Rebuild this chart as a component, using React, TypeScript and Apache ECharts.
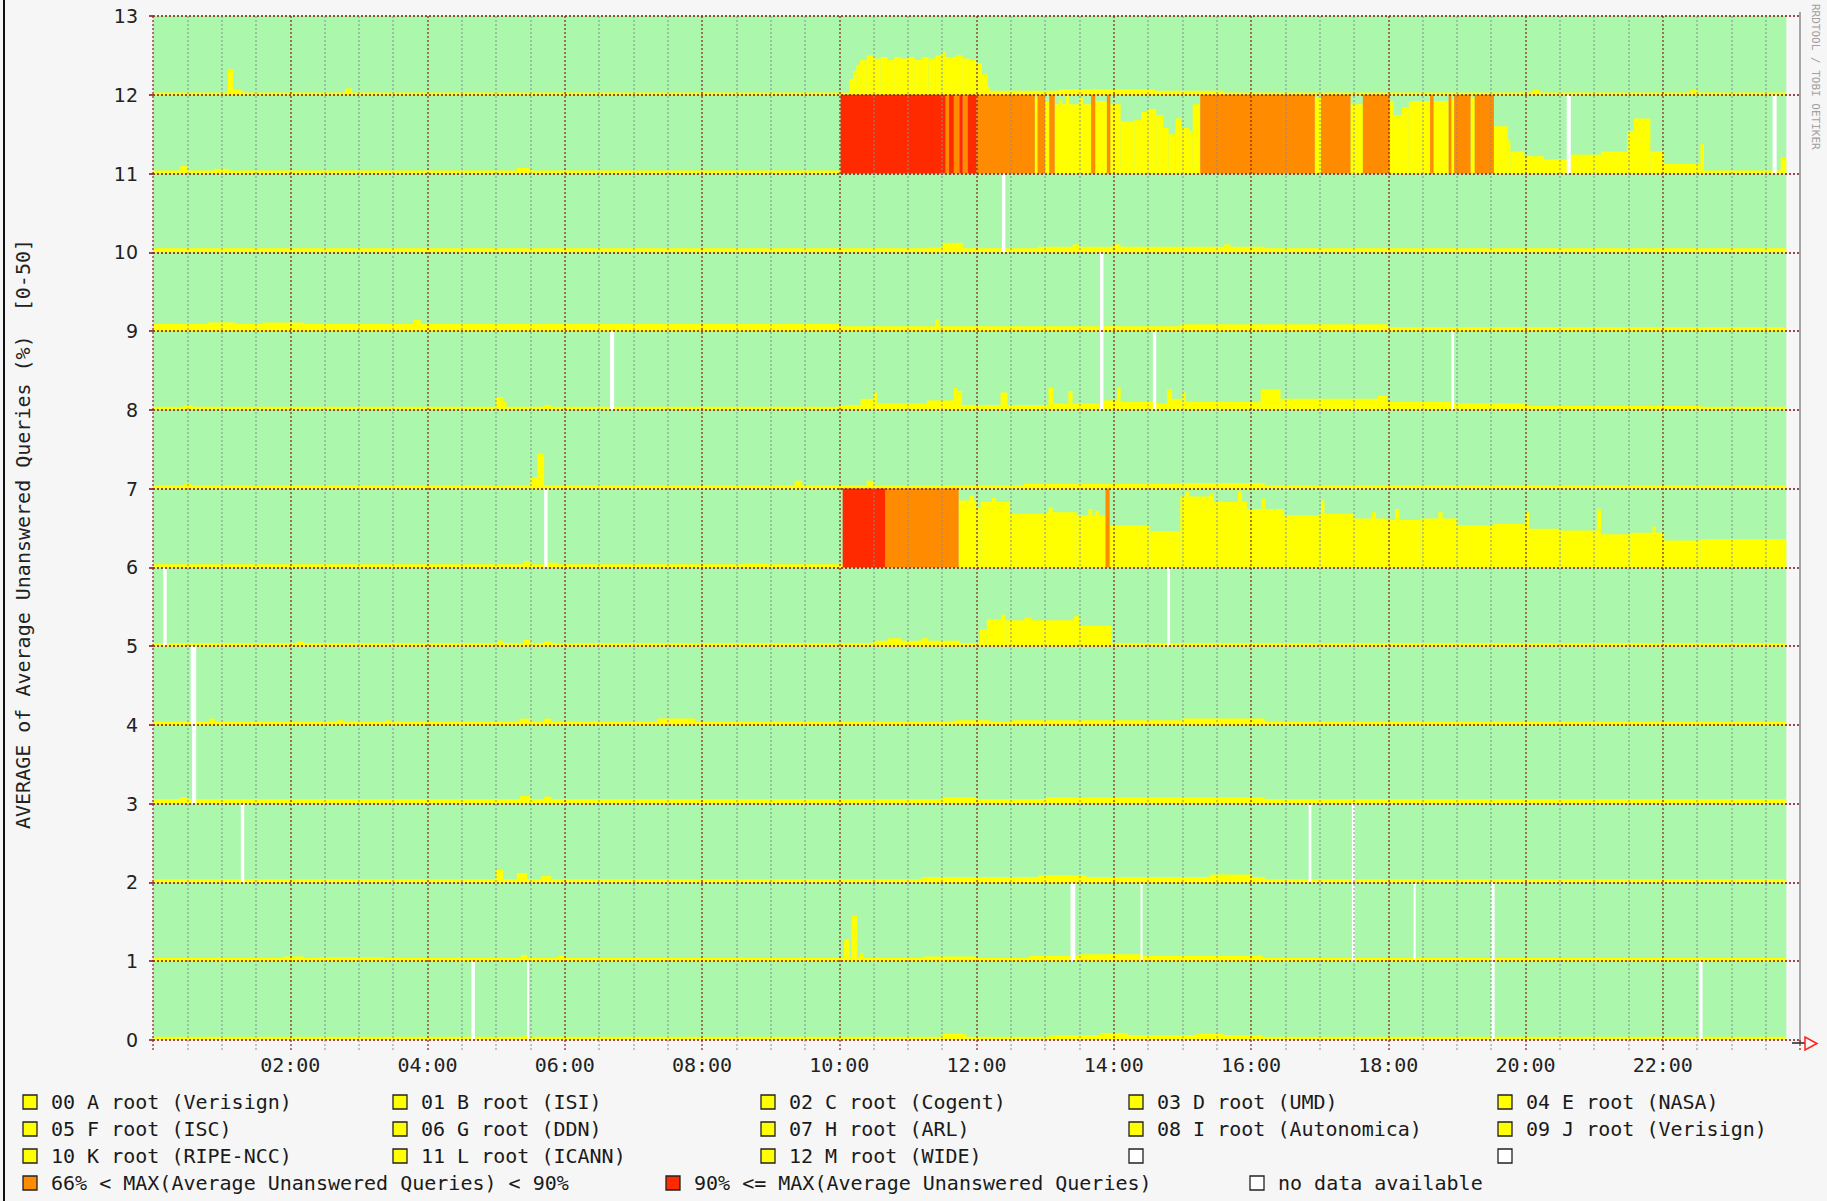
import React, { useEffect, useRef } from "react";
import * as echarts from "echarts";

// ---------- labels ----------
const ROOT_LABELS = [
  "00 A root (Verisign)",
  "01 B root (ISI)",
  "02 C root (Cogent)",
  "03 D root (UMD)",
  "04 E root (NASA)",
  "05 F root (ISC)",
  "06 G root (DDN)",
  "07 H root (ARL)",
  "08 I root (Autonomica)",
  "09 J root (Verisign)",
  "10 K root (RIPE-NCC)",
  "11 L root (ICANN)",
  "12 M root (WIDE)",
];
const X_TICK_HOURS = [2, 4, 6, 8, 10, 12, 14, 16, 18, 20, 22];
const Y_TICKS = [0, 1, 2, 3, 4, 5, 6, 7, 8, 9, 10, 11, 12, 13];
const Y_TITLE = "AVERAGE of Average Unanswered Queries (%)  [0-50]";
const LEGEND_ORANGE = "66% < MAX(Average Unanswered Queries) < 90%";
const LEGEND_RED = "90% <= MAX(Average Unanswered Queries)";
const LEGEND_NODATA = "no data available";
const ROW_SCALE_PCT = 50; // each row band spans 0-50 %
const DATA_END_HOUR = 23.8;

// ---------- yellow segments per root: [startHour, endHour, percent] ----------
const yellow00 = [[0, 23.8, 2], [5.4, 5.5, 3], [11.5, 11.85, 4], [13.07, 16.17, 3], [13.8, 14.2, 4.5], [15.2, 15.6, 4]];
const yellow01 = [[0, 23.8, 2], [1.9, 2.2, 3], [2.43, 3.36, 2.5], [5.36, 5.45, 4], [5.9, 6.0, 3.5], [10.07, 10.15, 14], [10.18, 10.26, 29], [10.3, 10.35, 5], [11.23, 12.0, 3], [12.77, 16.17, 3.5], [13.5, 14.4, 4.5]];
const yellow02 = [[0, 23.8, 2], [5.0, 5.1, 8], [5.3, 5.45, 6], [5.65, 5.8, 4], [11.2, 16.2, 3.5], [12.9, 13.6, 4.5], [15.4, 16.0, 5]];
const yellow03 = [[0, 23.8, 3], [0.4, 0.5, 4], [5.35, 5.5, 5], [5.7, 5.8, 4.5], [11.5, 12.0, 4], [13.0, 16.2, 4]];
const yellow04 = [[0, 23.8, 2], [0.83, 0.9, 4], [2.69, 2.77, 3], [3.4, 3.46, 3], [5.35, 5.5, 4], [5.7, 5.8, 4], [7.35, 7.9, 4], [11.7, 12.2, 3], [12.5, 16.2, 3], [15.0, 16.2, 4]];
const yellow05 = [[0, 23.8, 2], [2.1, 2.2, 3], [5.03, 5.1, 3.5], [5.4, 5.5, 4], [5.7, 5.8, 3], [10.5, 11.76, 3.5], [10.7, 10.9, 5], [11.2, 11.3, 5], [12.05, 12.15, 10.5], [12.15, 12.44, 17], [12.36, 12.42, 20], [12.44, 13.42, 16.5], [12.7, 12.8, 18], [13.42, 13.5, 19], [13.5, 13.97, 13]];
const yellow06 = [
  [0, 23.8, 2], [5.4, 5.5, 4], [5.75, 5.9, 3], [8.6, 8.95, 2.5],
  [11.74, 12.0, 42.5], [11.9, 11.96, 45.7], [12.0, 12.06, 38], [12.06, 12.49, 41.5], [12.22, 12.28, 44],
  [12.49, 13.03, 34], [13.03, 13.46, 35], [13.05, 13.11, 38], [13.46, 13.88, 33], [13.63, 13.69, 37], [13.73, 13.79, 36],
  [13.94, 14.53, 26.6], [14.53, 14.97, 23],
  [14.97, 15.46, 45], [15.04, 15.1, 48], [15.4, 15.46, 47], [15.46, 15.94, 41.5], [15.81, 15.87, 48],
  [15.94, 16.48, 37], [16.15, 16.21, 43.6], [16.48, 17.01, 33], [17.01, 17.5, 34], [17.02, 17.07, 42.5],
  [17.5, 17.98, 31], [17.76, 17.82, 35], [17.98, 18.47, 30], [18.1, 18.16, 37], [18.47, 19.0, 31], [18.73, 18.79, 35],
  [19.0, 19.54, 26.6], [19.54, 20.02, 27.7], [20.0, 20.05, 35], [20.02, 20.51, 24.5], [20.51, 21.04, 23.4],
  [21.04, 21.53, 21], [21.04, 21.1, 37], [21.53, 22.02, 22], [21.85, 21.9, 26], [22.02, 22.55, 17], [22.55, 23.8, 18],
];
const yellow07 = [[0, 23.8, 2], [0.45, 0.55, 3], [5.5, 5.6, 7], [5.6, 5.7, 22], [9.35, 9.46, 5], [10.4, 10.5, 5], [12.68, 16.2, 3], [14.97, 16.2, 3.5]];
const yellow08 = [
  [0, 23.8, 2], [0.44, 0.58, 3], [5.0, 5.1, 8], [5.1, 5.15, 5], [5.7, 5.8, 3],
  [9.99, 10.31, 3], [10.31, 10.5, 7], [10.5, 10.55, 11], [10.55, 11.28, 4], [11.28, 11.67, 6], [11.67, 11.72, 14],
  [11.72, 11.79, 12], [11.79, 12.35, 3], [12.35, 12.45, 11], [12.45, 13.05, 3], [13.05, 13.12, 14], [13.12, 13.34, 4],
  [13.34, 13.4, 12], [13.4, 13.85, 4], [13.85, 14.1, 6], [14.05, 14.1, 14], [14.1, 14.63, 5], [14.63, 14.78, 4],
  [14.78, 14.85, 13], [14.85, 15.0, 7], [15.0, 15.05, 11], [15.05, 16.14, 5], [16.14, 16.43, 13], [16.43, 17.98, 7],
  [17.85, 17.98, 9], [17.98, 18.95, 5], [18.95, 20.02, 4], [20.02, 22.55, 2.5],
];
const yellow09 = [[0, 10, 4.5], [10, 14.97, 3], [14.97, 18, 4.3], [18, 23.8, 2.5], [0.8, 1.2, 5.5], [1.6, 2.2, 5.5], [3.8, 3.9, 7], [11.4, 11.45, 7.5]];
const yellow10 = [[0, 23.8, 2.5], [11.3, 11.5, 3], [11.5, 11.8, 6], [12.9, 16.2, 3.5], [13.4, 13.5, 5], [14.0, 14.1, 5], [15.6, 15.7, 5]];
const yellow11 = [
  [0, 23.8, 2], [0.4, 0.5, 4.7], [0.9, 1.1, 3], [5.3, 5.5, 3.5],
  [12.85, 12.89, 48], [13.0, 13.06, 46], [13.14, 13.67, 44], [13.2, 13.25, 47], [13.3, 13.35, 49], [13.5, 13.55, 48],
  [13.73, 13.9, 46], [13.95, 14.1, 44], [14.1, 14.3, 33], [14.3, 14.4, 34], [14.4, 14.5, 39], [14.5, 14.62, 41],
  [14.62, 14.72, 37], [14.72, 14.8, 29], [14.8, 14.9, 25], [14.9, 14.98, 35], [14.98, 15.1, 29], [15.1, 15.15, 27],
  [15.15, 15.26, 44], [16.93, 17.02, 48], [17.45, 17.63, 44], [18.02, 18.08, 46], [18.08, 18.2, 37], [18.2, 18.3, 42],
  [18.3, 18.61, 46], [18.66, 18.88, 46], [18.92, 18.96, 47], [19.2, 19.26, 48],
  [19.54, 19.74, 30], [19.74, 19.78, 21], [19.78, 19.98, 14], [19.98, 20.27, 11], [20.27, 20.66, 9], [20.66, 21.1, 12],
  [21.1, 21.48, 14], [21.48, 21.58, 27], [21.58, 21.82, 35], [21.82, 22.02, 14], [22.02, 22.55, 6], [22.55, 22.6, 18.6],
  [23.72, 23.8, 10],
];
const yellow12 = [
  [0, 23.8, 1.5], [1.09, 1.17, 16], [1.17, 1.3, 3], [2.8, 2.9, 4],
  [10.15, 10.2, 10], [10.2, 10.25, 15], [10.25, 10.3, 19], [10.3, 10.4, 22], [10.4, 10.5, 25], [10.5, 10.6, 23],
  [10.6, 10.7, 24], [10.7, 10.8, 22], [10.8, 10.9, 24], [10.9, 11.0, 23], [11.0, 11.1, 24], [11.1, 11.2, 22],
  [11.2, 11.3, 24], [11.3, 11.4, 23], [11.4, 11.5, 25], [11.5, 11.55, 27], [11.55, 11.7, 24], [11.7, 11.8, 25],
  [11.8, 11.9, 23], [11.9, 12.0, 22], [12.0, 12.08, 20], [12.08, 12.16, 13], [12.16, 12.2, 5],
  [12.2, 15.6, 2.5], [13.2, 14.6, 3.5], [20.1, 20.2, 3], [22.4, 22.5, 3],
];
const YELLOW_BY_ROOT = [yellow00, yellow01, yellow02, yellow03, yellow04, yellow05, yellow06, yellow07, yellow08, yellow09, yellow10, yellow11, yellow12];

// ---------- threshold blocks: [startHour, endHour] ----------
const redRoot06 = [[10.05, 10.67]];
const orangeRoot06 = [[10.67, 11.74], [13.88, 13.94]];
const redRoot11 = [[10.02, 11.55], [11.6, 11.67], [11.75, 11.8], [11.87, 12.0]];
const orangeRoot11 = [
  [11.55, 11.6], [11.67, 11.75], [11.8, 11.87], [12.0, 12.85], [12.89, 13.0], [13.06, 13.14], [13.67, 13.73],
  [13.9, 13.95], [15.26, 16.93], [17.02, 17.45], [17.63, 18.02], [18.61, 18.66], [18.88, 18.92], [18.96, 19.2], [19.26, 19.54],
];

// ---------- no-data gaps: [root, startHour, endHour] ----------
const noDataGaps = [
  [11, 20.6, 20.66], [11, 23.6, 23.66],
  [10, 12.37, 12.42],
  [9, 13.8, 13.85],
  [8, 6.66, 6.72], [8, 13.8, 13.85], [8, 14.57, 14.62], [8, 18.92, 18.96],
  [6, 5.7, 5.75],
  [5, 0.15, 0.2], [5, 14.78, 14.82],
  [4, 0.55, 0.63], [3, 0.57, 0.63],
  [2, 1.28, 1.33], [2, 16.84, 16.88], [2, 17.47, 17.51],
  [1, 13.37, 13.44], [1, 14.39, 14.42], [1, 17.47, 17.51], [1, 18.37, 18.4], [1, 19.5, 19.55],
  [0, 4.64, 4.69], [0, 5.45, 5.48], [0, 19.5, 19.55], [0, 22.53, 22.58],
];

// ---------- colours ----------
const C_GREEN = "#abf7ab";
const C_YELLOW = "#ffff00";
const C_ORANGE = "#ff8c00";
const C_RED = "#ff2a00";
const C_MGRID = "rgba(135,30,30,0.8)";
const C_GRID = "rgba(140,140,150,0.65)";
const MONO = '"DejaVu Sans Mono", "Liberation Mono", monospace';

function rectRenderer(color: string) {
  return (params: any, api: any) => {
    const row = api.value(0) as number;
    const s = api.value(1) as number;
    const e = api.value(2) as number;
    const pct = api.value(3) as number;
    const a = api.coord([s, row]);
    const b = api.coord([e, row + pct / ROW_SCALE_PCT]);
    return {
      type: "rect",
      shape: { x: a[0], y: b[1], width: Math.max(b[0] - a[0], 1), height: a[1] - b[1] },
      style: { fill: color },
    };
  };
}

function pad2(n: number) {
  return (n < 10 ? "0" : "") + n;
}

export default function App() {
  const ref = useRef<HTMLDivElement>(null);

  useEffect(() => {
    if (!ref.current) return;
    const chart = echarts.init(ref.current, undefined, { renderer: "svg", width: 1827, height: 1201 });

    const greenData = ROOT_LABELS.map((_, i) => [i, 0, DATA_END_HOUR, ROW_SCALE_PCT]);
    const yellowData: number[][] = [];
    YELLOW_BY_ROOT.forEach((segs, i) => segs.forEach((s) => yellowData.push([i, s[0], s[1], s[2]])));
    const orangeData = [
      ...orangeRoot06.map((s) => [6, s[0], s[1], ROW_SCALE_PCT]),
      ...orangeRoot11.map((s) => [11, s[0], s[1], ROW_SCALE_PCT]),
    ];
    const redData = [
      ...redRoot06.map((s) => [6, s[0], s[1], ROW_SCALE_PCT]),
      ...redRoot11.map((s) => [11, s[0], s[1], ROW_SCALE_PCT]),
    ];
    const gapData = noDataGaps.map((g) => [g[0], g[1], g[2], ROW_SCALE_PCT]);

    const mkSeries = (name: string, data: number[][], color: string, z: number) => ({
      type: "custom",
      name,
      data,
      z,
      encode: { x: [1, 2], y: 0 },
      renderItem: rectRenderer(color),
      silent: true,
    });

    // legend graphics
    const legendCols = [23, 393, 761, 1129, 1498];
    const legendRows = [1102, 1129, 1156, 1183];
    const legendEls: any[] = [];
    const addItem = (x: number, yc: number, fill: string, label: string) => {
      legendEls.push({
        type: "rect",
        shape: { x: x, y: yc - 7, width: 14, height: 14 },
        style: { fill, stroke: "#222", lineWidth: 1.3 },
      });
      if (label) {
        legendEls.push({
          type: "text",
          x: x + 28,
          y: yc,
          style: {
            text: label,
            font: `20px ${MONO}`,
            fill: "#1a1a1a",
            textAlign: "left",
            textVerticalAlign: "middle",
            align: "left",
            verticalAlign: "middle",
          },
        });
      }
    };
    for (let k = 0; k < 15; k++) {
      const r = Math.floor(k / 5);
      const c = k % 5;
      if (k < ROOT_LABELS.length) addItem(legendCols[c], legendRows[r], C_YELLOW, ROOT_LABELS[k]);
      else addItem(legendCols[c], legendRows[r], "#ffffff", "");
    }
    addItem(23, legendRows[3], C_ORANGE, LEGEND_ORANGE);
    addItem(666, legendRows[3], C_RED, LEGEND_RED);
    addItem(1250, legendRows[3], "#ffffff", LEGEND_NODATA);

    const option: any = {
      animation: false,
      backgroundColor: "#f6f6f6",
      grid: { left: 153, top: 16, width: 1647, height: 1024, containLabel: false },
      xAxis: {
        type: "value",
        min: 0,
        max: 24,
        interval: 2,
        z: 5,
        axisLine: { show: false },
        axisTick: { show: true, length: 10, lineStyle: { color: C_MGRID, width: 1.5, type: [2, 2] } },
        minorTick: { show: true, splitNumber: 4, length: 10, lineStyle: { color: C_GRID, width: 1.5, type: [2, 2] } },
        splitLine: { show: true, showMaxLine: false, lineStyle: { color: C_MGRID, width: 1.5, type: [2, 2] } },
        minorSplitLine: { show: true, lineStyle: { color: C_GRID, width: 1.5, type: [2, 2] } },
        axisLabel: {
          margin: 15,
          fontFamily: MONO,
          fontSize: 20,
          color: "#222",
          formatter: (v: number) => (X_TICK_HOURS.indexOf(v) >= 0 ? `${pad2(v)}:00` : ""),
        },
      },
      yAxis: {
        type: "value",
        min: 0,
        max: 13,
        interval: 1,
        z: 5,
        axisLine: { show: false },
        axisTick: { show: true, length: 4, lineStyle: { color: C_MGRID, width: 2 } },
        splitLine: { show: true, lineStyle: { color: C_MGRID, width: 2, type: [2, 2] } },
        axisLabel: {
          margin: 15,
          fontFamily: '"DejaVu Sans", sans-serif',
          fontSize: 19,
          color: "#222",
          formatter: (v: number) => (Y_TICKS.indexOf(v) >= 0 ? String(v) : ""),
        },
      },
      series: [
        mkSeries("data available", greenData, C_GREEN, 1),
        mkSeries("Average Unanswered Queries", yellowData, C_YELLOW, 2),
        mkSeries(LEGEND_ORANGE, orangeData, C_ORANGE, 3),
        mkSeries(LEGEND_RED, redData, C_RED, 3),
        mkSeries(LEGEND_NODATA, gapData, "#ffffff", 4),
      ],
      graphic: [
        { type: "line", shape: { x1: 4, y1: 0, x2: 4, y2: 1201 }, style: { stroke: "#111", lineWidth: 2 } },
        { type: "line", shape: { x1: 1800, y1: 12, x2: 1800, y2: 1044 }, style: { stroke: "#8a8a8a", lineWidth: 1.5 } },
        { type: "line", shape: { x1: 1792, y1: 1043, x2: 1805, y2: 1043 }, style: { stroke: "#222", lineWidth: 1.5 } },
        {
          type: "polygon",
          shape: { points: [[1805, 1037], [1805, 1050], [1817, 1043.5]] },
          style: { fill: "none", stroke: "#ff2020", lineWidth: 1.5 },
        },
        {
          type: "text",
          x: 23,
          y: 534,
          rotation: Math.PI / 2,
          style: {
            text: Y_TITLE,
            font: `20px ${MONO}`,
            fill: "#222",
            textAlign: "center",
            textVerticalAlign: "middle",
            align: "center",
            verticalAlign: "middle",
          },
        },
        {
          type: "text",
          x: 1815,
          y: 4,
          rotation: -Math.PI / 2,
          style: {
            text: "RRDTOOL / TOBI OETIKER",
            font: `11px ${MONO}`,
            fill: "#a0a0a0",
            textAlign: "left",
            textVerticalAlign: "middle",
            align: "left",
            verticalAlign: "middle",
          },
        },
        ...legendEls,
      ],
    };

    chart.setOption(option);
    return () => chart.dispose();
  }, []);

  return <div ref={ref} style={{ position: "absolute", left: 0, top: 0, width: 1827, height: 1201 }} />;
}
